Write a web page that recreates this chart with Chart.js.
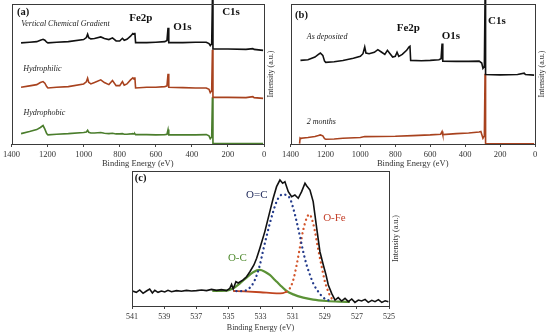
<!DOCTYPE html>
<html>
<head>
<meta charset="utf-8">
<script src="https://cdn.jsdelivr.net/npm/chart.js@4.4.1/dist/chart.umd.min.js"></script>
<style>
  body { margin: 0; background: #fff; }
  #wrap { position: relative; width: 550px; height: 336px; overflow: hidden; background: #fff; }
  canvas { position: absolute; }
</style>
</head>
<body>
<div id="wrap">
  <canvas id="chartA" width="275" height="170" style="left:0;top:0"></canvas>
  <canvas id="chartB" width="275" height="170" style="left:275px;top:0"></canvas>
  <canvas id="chartC" width="310" height="176" style="left:100px;top:160px"></canvas>
</div>
<script>
// ---- (a) survey spectra, three surfaces (offset traces, a.u.) ----
const surveyEnergyA = [1347, 1300, 1260, 1240, 1225, 1215, 1205, 1198, 1150, 1085, 1000, 985, 978, 972, 960, 940, 905, 885, 860, 840,
  820, 800, 785, 775, 760, 740, 727, 720, 716, 712, 650, 600, 550, 538, 532, 528, 450, 380, 320, 305, 298, 290, 286, 283, 200, 100, 62, 55, 5];
const gradientA = [72.2, 72.7, 73.1, 74.1, 74.8, 74.1, 72.7, 72.2, 72.7, 73.1, 74.6, 76.0, 78.4, 76.0, 75.1, 75.3, 76.5, 75.3, 74.6, 75.8,
  73.6, 73.6, 75.5, 74.1, 74.8, 77.0, 78.9, 78.4, 79.4, 72.4, 72.4, 72.7, 73.1, 73.9, 83.0, 72.4, 72.4, 72.7, 72.7, 71.7, 70.3, 71.7, 104, 67.9, 67.9, 67.6, 68.1, 67.6, 66.9];
const hydrophilicA = [40.5, 41.5, 42.4, 43.9, 44.6, 43.4, 41.0, 40.0, 40.5, 41.0, 42.9, 44.4, 47.0, 44.1, 42.9, 43.9, 45.8, 43.9, 42.4, 45.3,
  41.7, 41.7, 44.6, 42.0, 42.9, 45.8, 47.2, 46.3, 47.7, 40.0, 40.5, 40.5, 41.0, 41.5, 50.1, 40.5, 40.3, 40.0, 40.0, 39.1, 36.7, 38.1, 67.4, 33.3, 33.3, 33.1, 33.8, 33.1, 32.6];
const hydrophobicA = [7.4, 8.9, 10.3, 11.8, 13.2, 10.6, 7.4, 6.5, 7.0, 7.4, 8.2, 8.6, 9.8, 8.4, 7.9, 7.9, 8.2, 7.7, 7.4, 7.7,
  7.2, 7.2, 7.4, 7.0, 7.0, 7.2, 7.4, 7.2, 7.4, 6.7, 6.7, 6.5, 6.7, 7.0, 10.3, 6.5, 6.5, 6.5, 6.7, 5.8, 3.8, 5.0, 33.3, 0.3, 0.3, 0.3, 0.3, 0.3, 0.3];

// ---- (b) survey spectra, as deposited vs 2 months ----
const asDepEnergy = [1343, 1300, 1260, 1240, 1229, 1215, 1205, 1198, 1150, 1100, 1040, 1000, 985, 975, 968, 950, 920, 900, 880, 860,
  845, 830, 815, 800, 790, 780, 760, 735, 722, 716, 712, 650, 600, 550, 538, 532, 528, 450, 380, 320, 305, 298, 290, 286, 283, 200, 100, 62, 55, 5];
const asDepIntensity = [59.7, 60.2, 62.1, 64.0, 65.0, 63.3, 59.2, 58.3, 58.8, 59.7, 61.2, 62.6, 64.5, 69.3, 65.0, 64.5, 65.5, 67.4, 65.7, 64.0,
  66.9, 64.5, 62.1, 62.6, 65.5, 62.6, 64.0, 66.9, 69.3, 69.8, 59.7, 59.5, 59.7, 60.2, 60.9, 71.7, 59.2, 59.0, 59.0, 59.2, 57.8, 54.0, 55.4, 104, 49.6, 49.4, 49.6, 50.6, 49.6, 49.2];
const twoMonthEnergy = [1348, 1345, 1343, 1300, 1260, 1240, 1229, 1215, 1205, 1198, 1150, 1100, 1000, 975, 800, 700, 600, 540, 532, 528,
  450, 380, 320, 310, 298, 290, 286, 283, 5];
const twoMonthIntensity = [0.3, 4.3, 4.1, 4.6, 5.3, 6.0, 6.5, 5.8, 3.8, 3.4, 3.6, 4.1, 4.6, 5.3, 5.5, 6.0, 6.5, 7.0, 8.9, 6.7,
  7.4, 7.9, 8.6, 8.9, 4.1, 5.8, 50.1, 0.2, 0.2];

// ---- (c) O1s high resolution ----
const envelopeE = [540.98, 540.73, 540.52, 540.31, 540.10, 539.90, 539.73, 539.58, 539.38, 539.17, 538.96, 538.76, 538.54, 538.23, 537.92,
  537.61, 537.30, 536.99, 536.67, 536.36, 536.05, 535.74, 535.43, 535.11, 534.91, 534.80, 534.70, 534.53, 534.39, 534.08, 533.87, 533.66,
  533.41, 533.24, 533.04, 532.73, 532.42, 532.21, 532.00, 531.79, 531.62, 531.48, 531.27, 531.06, 530.86, 530.65, 530.44, 530.23, 530.13,
  529.92, 529.72, 529.50, 529.30, 529.09, 528.92, 528.78, 528.57, 528.36, 528.16, 527.95, 527.74, 527.53, 527.32, 527.12, 526.91, 526.70,
  526.49, 526.29, 526.07, 525.87, 525.66, 525.45, 525.24, 525.04];
const envelopeI = [11.1, 10.1, 11.9, 9.4, 11.1, 12.6, 9.6, 11.6, 10.1, 11.1, 10.4, 11.6, 10.6, 11.4, 10.9,
  11.6, 11.1, 11.4, 11.9, 11.4, 12.3, 11.6, 12.1, 11.4, 13.1, 16.0, 12.6, 18.0, 17.0, 19.3, 21.7, 25.4,
  30.4, 35.3, 42.7, 55.1, 69.9, 79.8, 88.4, 93.3, 90.9, 92.1, 84.7, 81.0, 82.2, 79.8, 84.7, 90.9, 89.1,
  85.9, 77.3, 57.5, 40.2, 30.4, 23.0, 15.6, 9.4, 4.4, 6.2, 3.7, 5.7, 3.2, 5.2, 2.7, 4.4, 3.7,
  4.9, 2.7, 4.2, 3.2, 4.7, 2.7, 3.9, 3.2];
const ocDoubleE = [534.5, 534.08, 533.66, 533.35, 533.04, 532.83, 532.63, 532.42, 532.21, 532.00, 531.79, 531.59, 531.38, 531.17, 530.96,
  530.75, 530.54, 530.34, 530.13, 529.92, 529.72, 529.40, 529.09, 528.67];
const ocDoubleI = [11.0, 11.1, 13.6, 19.3, 30.4, 41.5, 51.3, 61.2, 69.9, 77.3, 81.5, 82.7, 82.0, 79.8, 72.3,
  62.5, 51.3, 40.2, 30.4, 23.0, 16.8, 10.6, 6.2, 3.7];
const oFeE = [531.38, 531.17, 530.96, 530.75, 530.54, 530.34, 530.13, 529.96, 529.75, 529.61, 529.40, 529.19, 528.99, 528.78, 528.57, 528.36];
const oFeI = [10.6, 13.1, 19.3, 30.4, 43.9, 56.3, 65.0, 67.9, 62.5, 55.0, 41.5, 29.1, 18.0, 10.6, 5.7, 3.9];
const oFeBaseE = [534.70, 534.0, 533.0, 532.0, 531.6, 531.38];
const oFeBaseI = [11.1, 10.8, 10.2, 9.4, 9.6, 10.6];
const ocSingleE = [536.0, 535.11, 534.70, 534.28, 533.87, 533.46, 533.04, 532.73, 532.42, 532.10, 531.79, 531.38, 530.96, 530.34, 529.72, 528.88, 528.05, 527.43];
const ocSingleI = [11.2, 11.4, 13.1, 16.8, 21.0, 25.0, 26.7, 25.4, 23.0, 19.3, 15.6, 11.1, 8.6, 6.2, 4.7, 3.7, 3.2, 3.0];

const surveyTicks = [1400, 1200, 1000, 800, 600, 400, 200, 0];
const coreTicks = [541, 539, 537, 535, 533, 531, 529, 527, 525];

const SERIF = '"Liberation Serif", "Times New Roman", serif';
const pts = (xs, ys) => xs.map((e, i) => ({ x: e, y: ys[i] }));

// frame, text notes and the right-hand rotated axis title
function panelDecor(notes) {
  return {
    id: 'panelDecor',
    afterDatasetsDraw(chart) {
      const { ctx, chartArea: a, scales: { x, y } } = chart;
      ctx.save();
      const L = Math.round(a.left), T = Math.round(a.top), R = Math.round(a.right), B = Math.round(a.bottom);
      ctx.strokeStyle = '#3a3a3a';
      ctx.lineWidth = 1;
      ctx.strokeRect(L + 0.5, T + 0.5, R - L, B - T);
      ctx.textAlign = 'left';
      ctx.textBaseline = 'middle';
      notes.forEach(n => {
        ctx.font = n.font;
        ctx.fillStyle = n.color || '#111';
        ctx.fillText(n.text, x.getPixelForValue(n.e), y.getPixelForValue(n.v));
      });
      ctx.translate(a.right + 7, (a.top + a.bottom) / 2);
      ctx.rotate(-Math.PI / 2);
      ctx.textAlign = 'center';
      ctx.font = '8px ' + SERIF;
      ctx.fillStyle = '#333';
      ctx.fillText('Intensity (a.u.)', 0, 0);
      ctx.restore();
    }
  };
}

function energyAxis(min, max, ticks, size, height, titlePad) {
  return {
    type: 'linear', min, max, reverse: true,
    afterBuildTicks: s => { s.ticks = ticks.map(v => ({ value: v })); },
    afterFit: s => { s.height = height; },
    grid: { display: true, drawOnChartArea: false, drawTicks: true, tickLength: 3, color: '#444' },
    border: { display: false },
    ticks: { padding: 3, color: '#333', autoSkip: false, maxRotation: 0, font: { family: SERIF, size }, callback: v => String(v) },
    title: { display: true, text: 'Binding Energy (eV)', color: '#333', font: { family: SERIF, size }, padding: { top: 0, bottom: titlePad } }
  };
}

function trace(xs, ys, color, extra) {
  return Object.assign({ data: pts(xs, ys), borderColor: color, borderWidth: 1.6, pointRadius: 0, tension: 0, fill: false }, extra || {});
}

function makeChart(id, datasets, xAxis, padding, notes) {
  return new Chart(document.getElementById(id), {
    type: 'line',
    data: { datasets },
    options: {
      responsive: false, animation: false, devicePixelRatio: 1,
      layout: { padding },
      plugins: { legend: { display: false }, tooltip: { enabled: false } },
      scales: { x: xAxis, y: { display: false, min: 0, max: 100 } }
    },
    plugins: [panelDecor(notes)]
  });
}

const bold = '700 10.5px ' + SERIF, peak = '700 11px ' + SERIF, ital = 'italic 8px ' + SERIF;

makeChart('chartA', [
  trace(surveyEnergyA, gradientA, '#111', { clip: false }),
  trace(surveyEnergyA, hydrophilicA, '#a8421e'),
  trace(surveyEnergyA, hydrophobicA, '#4a7d2c')
], energyAxis(0, 1400, surveyTicks, 8.5, 26, 1), { left: 11, right: 11, top: 4, bottom: 0 }, [
  { text: '(a)', e: 1370, v: 93.8, font: bold },
  { text: 'Vertical Chemical Gradient', e: 1346, v: 85.7, font: ital, color: '#222' },
  { text: 'Fe2p', e: 747, v: 89.8, font: peak },
  { text: 'O1s', e: 503, v: 83.8, font: peak },
  { text: 'C1s', e: 232, v: 94.5, font: peak },
  { text: 'Hydrophilic', e: 1335, v: 53.6, font: ital, color: '#222' },
  { text: 'Hydrophobic', e: 1334, v: 22.1, font: ital, color: '#222' }
]);

makeChart('chartB', [
  trace(asDepEnergy, asDepIntensity, '#111', { clip: false }),
  trace(twoMonthEnergy, twoMonthIntensity, '#a8421e')
], energyAxis(0, 1400, surveyTicks, 8.5, 26, 1), { left: 15.5, right: 15, top: 4, bottom: 0 }, [
  { text: '(b)', e: 1374, v: 92.1, font: bold },
  { text: 'As deposited', e: 1307, v: 76.6, font: ital, color: '#222' },
  { text: 'Fe2p', e: 792, v: 82.6, font: peak },
  { text: 'O1s', e: 534, v: 77.1, font: peak },
  { text: 'C1s', e: 269, v: 87.4, font: peak },
  { text: '2 months', e: 1307, v: 15.5, font: ital, color: '#222' }
]);

const dotted = { borderDash: [0.1, 4.6], borderCapStyle: 'round', borderWidth: 2.3, cubicInterpolationMode: 'monotone' };
makeChart('chartC', [
  trace(envelopeE, envelopeI, '#111'),
  trace(ocDoubleE, ocDoubleI, '#233a8b', dotted),
  trace(oFeE, oFeI, '#d2542a', dotted),
  trace(oFeBaseE, oFeBaseI, '#c0441f', { borderWidth: 1.8, cubicInterpolationMode: 'monotone' }),
  trace(ocSingleE, ocSingleI, '#5b9236', { borderWidth: 2.2, cubicInterpolationMode: 'monotone' })
], energyAxis(525, 541, coreTicks, 8, 30, 2.9), { left: 32, right: 21, top: 11, bottom: 0 }, [
  { text: '(c)', e: 540.83, v: 94.8, font: bold },
  { text: 'O=C', e: 533.9, v: 82.2, font: '11px ' + SERIF, color: '#1a2456' },
  { text: 'O-Fe', e: 529.1, v: 65.2, font: '11px ' + SERIF, color: '#c4412b' },
  { text: 'O-C', e: 535.03, v: 35.6, font: '11px ' + SERIF, color: '#4f8a2e' }
]);
</script>
</body>
</html>
